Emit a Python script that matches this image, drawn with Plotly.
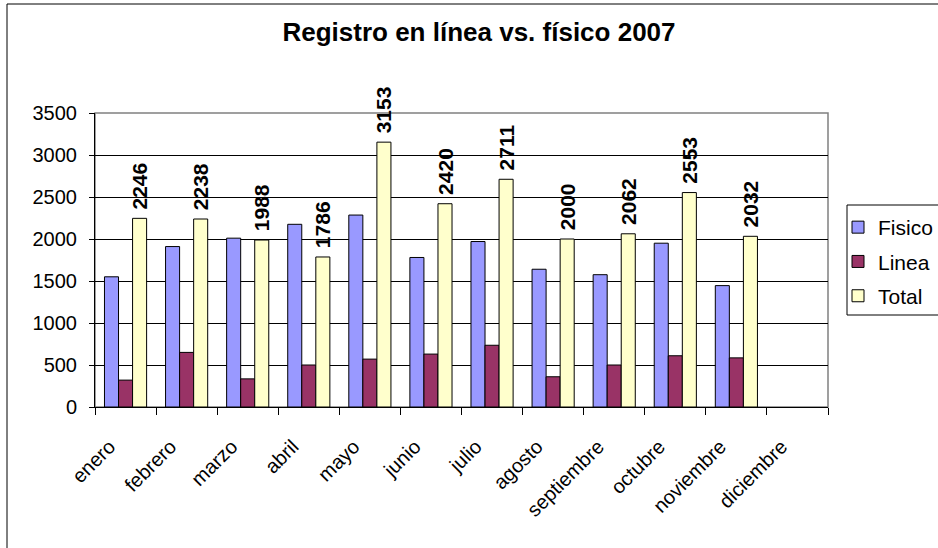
import plotly.graph_objects as go

months = ["enero", "febrero", "marzo", "abril", "mayo", "junio", "julio",
          "agosto", "septiembre", "octubre", "noviembre", "diciembre"]
fisico = [1550, 1910, 2010, 2175, 2285, 1780, 1970, 1640, 1575, 1950, 1445, None]
linea = [320, 650, 335, 500, 570, 630, 735, 360, 500, 610, 585, None]
total = [2246, 2238, 1988, 1786, 3153, 2420, 2711, 2000, 2062, 2553, 2032, None]
y_ticks = [0, 500, 1000, 1500, 2000, 2500, 3000, 3500]

FONT = "Liberation Sans, Arial, sans-serif"
W, H = 938, 548
L, R, T, B = 95, 110, 113, 141
pw, ph = W - L - R, H - T - B

fig = go.Figure()
fig.add_trace(go.Bar(name="Fisico", x=months, y=fisico, legendgroup="f",
                     marker=dict(color="#9999FF", line=dict(color="black", width=1))))
fig.add_trace(go.Bar(name="Linea", x=months, y=linea, legendgroup="l",
                     marker=dict(color="#993366", line=dict(color="black", width=1))))
fig.add_trace(go.Bar(name="Total", x=months, y=total, legendgroup="t",
                     marker=dict(color="#FFFFCC", line=dict(color="black", width=1)),
                     text=["&nbsp;" + str(v) if v is not None else "" for v in total],
                     textposition="outside", textangle=-90, constraintext="none",
                     textfont=dict(family=FONT, size=21, color="black", weight="bold"),
                     cliponaxis=False))

fig.update_layout(
    width=W, height=H,
    margin=dict(l=L, r=R, t=T, b=B, autoexpand=False),
    paper_bgcolor="white", plot_bgcolor="white",
    barmode="group", bargap=0.31, bargroupgap=0,
    font=dict(family=FONT, size=19, color="black"),
    title=dict(text="<b>Registro en línea vs. físico 2007</b>",
               font=dict(family=FONT, size=26, color="black"),
               x=479 / W, xref="container", xanchor="center",
               y=1 - 32 / H, yref="container", yanchor="middle"),
    legend=dict(x=(838 - L) / pw, xanchor="left", y=(407 - 207) / ph, yanchor="top",
                borderwidth=0, bgcolor="rgba(0,0,0,0)",
                font=dict(family=FONT, size=21, color="black"),
                itemwidth=30, traceorder="grouped", tracegroupgap=4),
    showlegend=True,
)
fig.update_xaxes(showline=True, linecolor="black", linewidth=1,
                 ticks="outside", tickson="boundaries", ticklen=7, tickcolor="black",
                 tickangle=-45, tickfont=dict(family=FONT, size=20, color="black"),
                 ticklabelshift=-16, ticklabelstandoff=19,
                 showgrid=False, mirror=False)
fig.update_yaxes(range=[0, 3500], tickvals=y_ticks, showline=True, linecolor="black",
                 linewidth=1, ticks="outside", ticklen=5, tickcolor="black",
                 ticklabelstandoff=8,
                 showgrid=True, gridcolor="black", gridwidth=1,
                 tickfont=dict(family=FONT, size=20, color="black"), zeroline=False)

# plot area border (grey), legend box and outer chart border
fig.add_shape(type="rect", xref="paper", yref="paper", x0=0, x1=1, y0=0, y1=1,
              line=dict(color="#808080", width=1.5), layer="below")
fig.add_shape(type="rect", xref="paper", yref="paper",
              x0=(847 - L) / pw, x1=(960 - L) / pw,
              y0=(407 - 315) / ph, y1=(407 - 205) / ph,
              line=dict(color="black", width=1), layer="below")
fig.add_shape(type="rect", xref="paper", yref="paper",
              x0=(7 - L) / pw, x1=(960 - L) / pw,
              y0=(407 - 570) / ph, y1=1 + (T - 4) / ph,
              line=dict(color="black", width=1), layer="below")

fig.write_html("out.html", config={"displayModeBar": False},
               post_script="document.body.style.margin='0';document.body.style.overflow='hidden';")
